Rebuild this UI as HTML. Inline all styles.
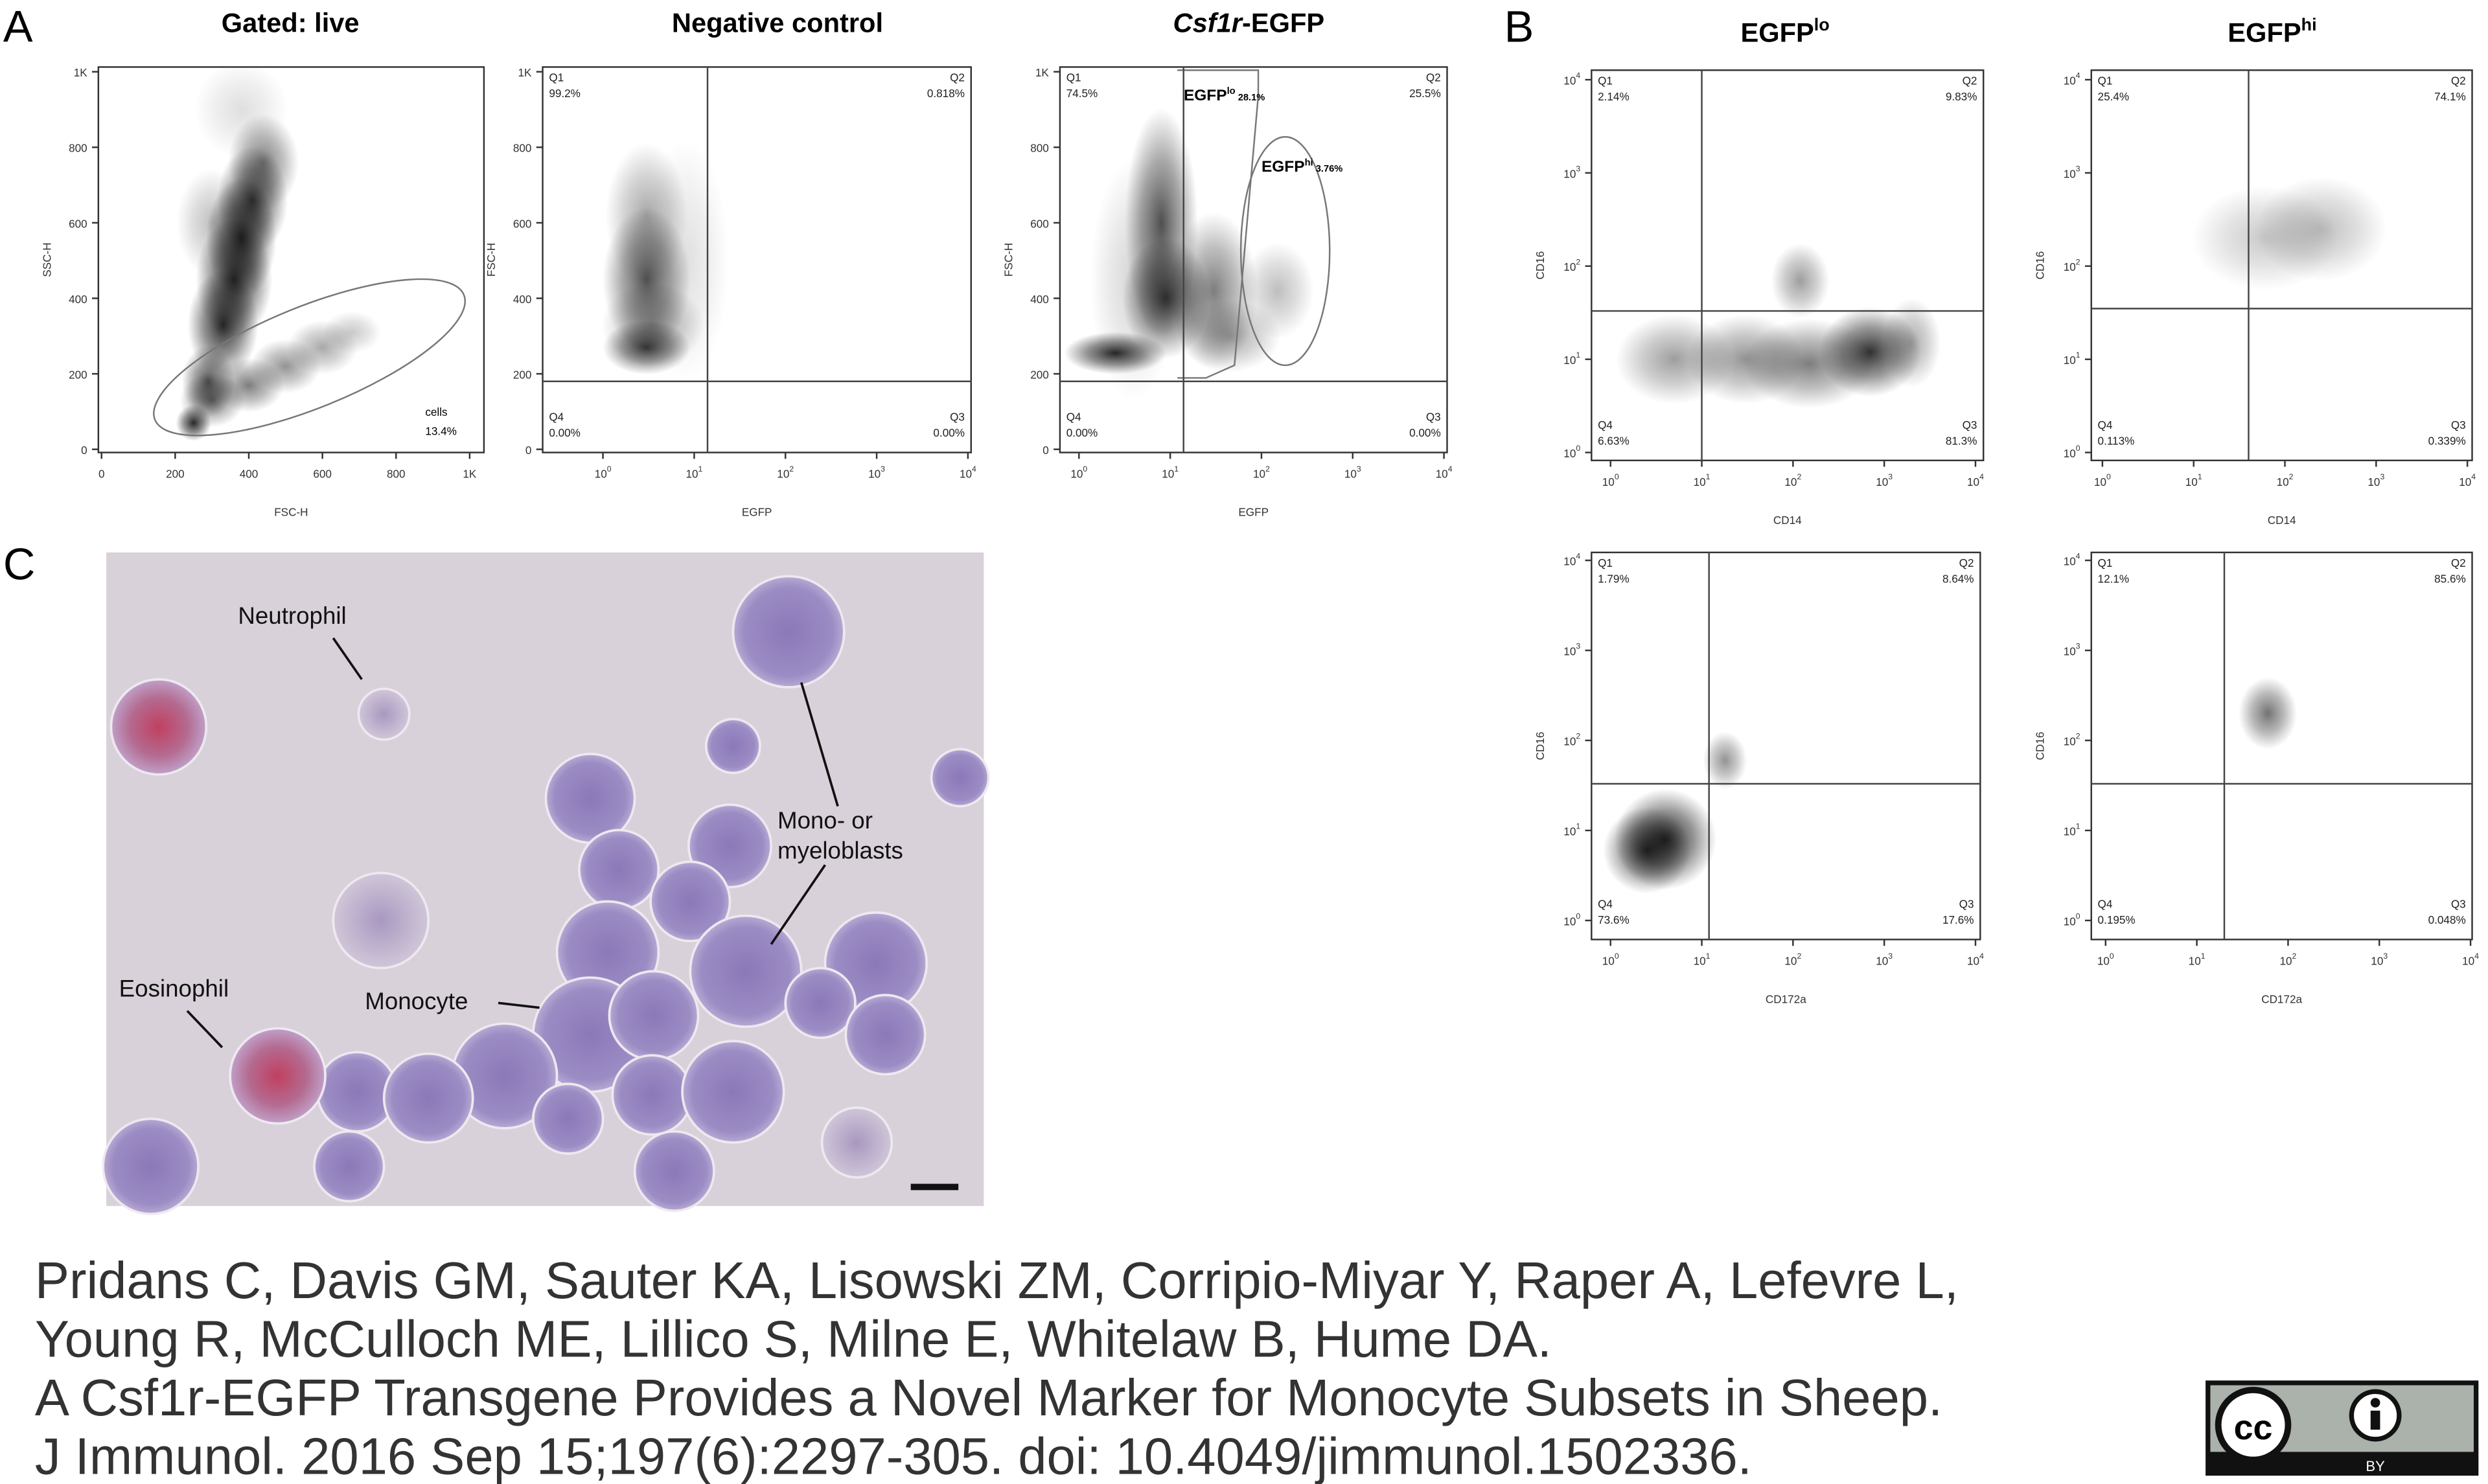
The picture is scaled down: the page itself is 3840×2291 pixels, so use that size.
<!DOCTYPE html>
<html><head><meta charset="utf-8"><style>
html,body{margin:0;padding:0;background:#fff}
svg{display:block}
text{font-family:"Liberation Sans",sans-serif}
</style></head><body>
<svg id="fig" width="3840" height="2291" viewBox="0 0 1568 935" xmlns="http://www.w3.org/2000/svg">
<defs>
<radialGradient id="dot"><stop offset="0" stop-color="#000" stop-opacity="0.85"/><stop offset="0.55" stop-color="#111" stop-opacity="0.45"/><stop offset="1" stop-color="#222" stop-opacity="0"/></radialGradient>
<radialGradient id="cellP"><stop offset="0" stop-color="#8a78b8"/><stop offset="0.8" stop-color="#9c8cc4"/><stop offset="1" stop-color="#b8aad4"/></radialGradient>
<radialGradient id="cellR"><stop offset="0" stop-color="#c04060"/><stop offset="0.6" stop-color="#b46a90"/><stop offset="1" stop-color="#c0a0c8"/></radialGradient>
<radialGradient id="cellF"><stop offset="0" stop-color="#a898c0"/><stop offset="1" stop-color="#d0c6d8"/></radialGradient>
</defs>
<g id="panels"></g>
<text x="2" y="26" font-size="28">A</text>
<text x="948" y="26" font-size="28">B</text>
<text x="2" y="365" font-size="28">C</text>
<text x="183" y="20" font-size="17" font-weight="bold" text-anchor="middle">Gated: live</text>
<text x="490" y="20" font-size="17" font-weight="bold" text-anchor="middle">Negative control</text>
<text x="787" y="20" font-size="17" font-weight="bold" text-anchor="middle"><tspan font-style="italic">Csf1r</tspan>-EGFP</text>
<text x="1125" y="26" font-size="17" font-weight="bold" text-anchor="middle">EGFP<tspan font-size="11" dy="-7">lo</tspan></text>
<text x="1432" y="26" font-size="17" font-weight="bold" text-anchor="middle">EGFP<tspan font-size="11" dy="-7">hi</tspan></text>

<g>
<rect x="67" y="348" width="553" height="412" fill="#d9d1d9"/>
<g id="cells"></g>
<g font-size="15" fill="#111">
<text x="150" y="393">Neutrophil</text>
<text x="490" y="522">Mono- or</text>
<text x="490" y="541">myeloblasts</text>
<text x="75" y="628">Eosinophil</text>
<text x="230" y="636">Monocyte</text>
</g>
<g stroke="#111" stroke-width="1.5" fill="none">
<line x1="210" y1="402" x2="228" y2="428"/><line x1="528" y1="508" x2="505" y2="430"/>
<line x1="520" y1="545" x2="486" y2="595"/><line x1="118" y1="637" x2="140" y2="660"/>
<line x1="314" y1="632" x2="340" y2="635"/>
</g>
<rect x="574" y="746" width="30" height="4" fill="#111"/>
</g>

<g font-size="32.5" fill="#333">
<text x="22" y="818">Pridans C, Davis GM, Sauter KA, Lisowski ZM, Corripio-Miyar Y, Raper A, Lefevre L,</text>
<text x="22" y="855">Young R, McCulloch ME, Lillico S, Milne E, Whitelaw B, Hume DA.</text>
<text x="22" y="892">A Csf1r-EGFP Transgene Provides a Novel Marker for Monocyte Subsets in Sheep.</text>
<text x="22" y="929">J Immunol. 2016 Sep 15;197(6):2297-305. doi: 10.4049/jimmunol.1502336.</text>
</g>
<g>
<rect x="1390" y="870" width="172" height="60" fill="#111"/>
<rect x="1393" y="873" width="166" height="42" fill="#aab2ab"/>
<circle cx="1420" cy="898" r="22" fill="#fff" stroke="#111" stroke-width="4"/>
<text x="1420" y="907" font-size="22" font-weight="bold" text-anchor="middle">cc</text>
<circle cx="1497" cy="892" r="15" fill="#fff" stroke="#111" stroke-width="3"/>
<circle cx="1497" cy="884" r="3" fill="#111"/><rect x="1494" y="889" width="6" height="12" fill="#111"/>
<text x="1497" y="927" font-size="9" fill="#fff" text-anchor="middle">BY</text>
</g>
</svg>
<script>
const NS="http://www.w3.org/2000/svg";
function mk(tag,attrs,parent){const e=document.createElementNS(NS,tag);for(const k in attrs)e.setAttribute(k,attrs[k]);parent.appendChild(e);return e;}
const root=document.getElementById('panels');

const linTicks=[0,200,400,600,800,1000];
const linTickLabels=["0","200","400","600","800","1K"];
const logTicks=[1,10,100,1000,10000];
const logTickExp=["0","1","2","3","4"];

// Plot A1: FSC-H vs SSC-H
const a1X=[250,290,330,360,380,410,440,300,400,500,600,680,380,300];
const a1Y=[70,180,330,450,560,660,760,130,170,220,270,310,900,600];
const a1SX=[30,45,60,65,60,60,60,55,60,60,60,50,80,60];
const a1SY=[30,60,90,100,100,90,80,45,45,45,45,35,80,90];
const a1W=[1,0.8,1,1,1,0.9,0.6,0.6,0.6,0.5,0.4,0.25,0.15,0.3];
// Plot A2
const a2X=[3,3,3,3.5,8];
const a2Y=[270,450,620,330,500];
const a2SX=[0.3,0.3,0.28,0.35,0.3];
const a2SY=[45,120,120,70,200];
const a2W=[0.9,0.8,0.4,0.4,0.15];
// Plot A3
const a3X=[2.5,8,9,30,45,150,4];
const a3Y=[255,600,400,420,300,420,450];
const a3SX=[0.35,0.25,0.3,0.3,0.35,0.25,0.3];
const a3SY=[35,190,100,130,60,80,200];
const a3W=[1,0.8,0.9,0.6,0.4,0.3,0.2];
// Plot B1
const b1X=[5,30,150,700,120,2000];
const b1Y=[10,10,9,12,70,15];
const b1SX=[0.4,0.4,0.45,0.35,0.2,0.2];
const b1SY=[0.3,0.3,0.3,0.3,0.25,0.3];
const b1W=[0.45,0.5,0.6,0.95,0.45,0.4];
// Plot B2
const b2X=[60,250];
const b2Y=[200,250];
const b2SX=[0.5,0.45];
const b2SY=[0.35,0.35];
const b2W=[0.25,0.3];
// Plot B3
const b3X=[4,2.5,18];
const b3Y=[8,6,60];
const b3SX=[0.35,0.3,0.15];
const b3SY=[0.35,0.3,0.2];
const b3W=[1,0.9,0.5];
// Plot B4
const b4X=[60];
const b4Y=[200];
const b4SX=[0.2];
const b4SY=[0.25];
const b4W=[0.65];

function linAx(v0,v1,p0,p1){return v=>p0+(v-v0)/(v1-v0)*(p1-p0);}
function logAx(p0,p1){return v=>p0+Math.log10(v)/4*(p1-p0);}

function plot(cfg){
  const g=mk('g',{},root);
  
  
  const f=mk('rect',{x:cfg.x0,y:cfg.y0,width:cfg.x1-cfg.x0,height:cfg.y1-cfg.y0,fill:'#fff',stroke:'#333','stroke-width':1},g);
  
  
  const clip='c'+cfg.name;
  const cp=mk('clipPath',{id:clip},g);mk('rect',{x:cfg.x0,y:cfg.y0,width:cfg.x1-cfg.x0,height:cfg.y1-cfg.y0},cp);
  const cg=mk('g',{'clip-path':'url(#'+clip+')'},g);
  for(let i=0;i<cfg.cx.length;i++){
    const px=cfg.fx(cfg.cx[i]),py=cfg.fy(cfg.cy[i]);
    let rx,ry;
    if(cfg.xlog){rx=cfg.sx[i]*(cfg.fx(10)-cfg.fx(1));}else{rx=Math.abs(cfg.fx(cfg.sx[i])-cfg.fx(0));}
    if(cfg.ylog){ry=cfg.sy[i]*Math.abs(cfg.fy(10)-cfg.fy(1));}else{ry=Math.abs(cfg.fy(cfg.sy[i])-cfg.fy(0));}
    const e=mk('ellipse',{cx:px,cy:py,rx:rx*1.6,ry:ry*1.6,fill:'url(#dot)',opacity:cfg.w[i]},cg);
    
    
  }
  (cfg.extra||(()=>{}))(cg);
  const tg=mk('g',{'font-size':7,fill:'#333'},g);
  const xt=cfg.xlog?logTicks:linTicks, yt=cfg.ylog?logTicks:linTicks;
  xt.forEach((v,i)=>{const px=cfg.fx(v);mk('line',{x1:px,x2:px,y1:cfg.y1,y2:cfg.y1+4,stroke:'#333'},tg);
    const t=mk('text',{x:px,y:cfg.y1+16,'text-anchor':'middle'},tg);
    if(cfg.xlog){t.textContent='10';mk('tspan',{dy:-4,'font-size':5},t).textContent=logTickExp[i];}else t.textContent=linTickLabels[i];});
  yt.forEach((v,i)=>{const py=cfg.fy(v);mk('line',{x1:cfg.x0-4,x2:cfg.x0,y1:py,y2:py,stroke:'#333'},tg);
    const t=mk('text',{x:cfg.x0-7,y:py+3,'text-anchor':'end'},tg);
    if(cfg.ylog){t.textContent='10';mk('tspan',{dy:-4,'font-size':5},t).textContent=logTickExp[i];}else t.textContent=linTickLabels[i];});
  const xl=mk('text',{x:(cfg.x0+cfg.x1)/2,y:cfg.y1+40,'text-anchor':'middle','font-size':7,fill:'#333'},g);xl.textContent=cfg.xlab;
  
  const ym=(cfg.y0+cfg.y1)/2, yx=cfg.x0-30;
  const yl=mk('text',{x:yx,y:ym,'text-anchor':'middle','font-size':7,fill:'#333',transform:`rotate(-90 ${yx} ${ym})`},g);yl.textContent=cfg.ylab;
  
  if(cfg.q){
    const qx=cfg.fx(cfg.q[0]),qy=cfg.fy(cfg.q[1]);
    mk('line',{x1:qx,x2:qx,y1:cfg.y0,y2:cfg.y1,stroke:'#444'},g);
    mk('line',{x1:cfg.x0,x2:cfg.x1,y1:qy,y2:qy,stroke:'#444'},g);
    const ql=mk('g',{'font-size':7,fill:'#222'},g);
    const L=cfg.qlab;
    [[cfg.x0+4,cfg.y0+9,'start','Q1'],[cfg.x1-4,cfg.y0+9,'end','Q2'],[cfg.x0+4,cfg.y1-20,'start','Q4'],[cfg.x1-4,cfg.y1-20,'end','Q3']].forEach((p,i)=>{
      const t=mk('text',{x:p[0],y:p[1],'text-anchor':p[2]},ql);t.textContent=p[3];
      const t2=mk('text',{x:p[0],y:p[1]+10,'text-anchor':p[2]},ql);t2.textContent=L[i];
      
    });
  }
}

plot({name:'plot-gated-live',x0:62,x1:305,y0:42,y1:285,fx:linAx(0,1000,64,296),fy:linAx(0,1000,283,45),xlog:false,ylog:false,
  cx:a1X,cy:a1Y,sx:a1SX,sy:a1SY,w:a1W,xlab:'FSC-H',ylab:'SSC-H',
  extra:g=>{mk('ellipse',{cx:195,cy:225,rx:105,ry:32,transform:'rotate(-22 195 225)',fill:'none',stroke:'#777'},g);
    const t=mk('text',{x:268,y:262,'font-size':7},g);t.textContent='cells';const t2=mk('text',{x:268,y:274,'font-size':7},g);t2.textContent='13.4%';}});
plot({name:'plot-negative-control',x0:342,x1:612,y0:42,y1:285,fx:logAx(380,610),fy:linAx(0,1000,283,45),xlog:true,ylog:false,
  cx:a2X,cy:a2Y,sx:a2SX,sy:a2SY,w:a2W,xlab:'EGFP',ylab:'FSC-H',q:[14,180],qlab:['99.2%','0.818%','0.00%','0.00%']});
plot({name:'plot-csf1r-egfp',x0:668,x1:912,y0:42,y1:285,fx:logAx(680,910),fy:linAx(0,1000,283,45),xlog:true,ylog:false,
  cx:a3X,cy:a3Y,sx:a3SX,sy:a3SY,w:a3W,xlab:'EGFP',ylab:'FSC-H',q:[14,180],qlab:['74.5%','25.5%','0.00%','0.00%'],
  extra:g=>{mk('path',{d:'M742 44 L793 44 L793 60 L778 230 L760 238 L742 238',fill:'none',stroke:'#777'},g);
    mk('ellipse',{cx:810,cy:158,rx:28,ry:72,fill:'none',stroke:'#777'},g);
    const t=mk('text',{x:746,y:63,'font-size':10,'font-weight':'bold'},g);t.textContent='EGFP';mk('tspan',{dy:-4,'font-size':6},t).textContent='lo';mk('tspan',{dy:4,'font-size':6},t).textContent=' 28.1%';
    const t2=mk('text',{x:795,y:108,'font-size':10,'font-weight':'bold'},g);t2.textContent='EGFP';mk('tspan',{dy:-4,'font-size':6},t2).textContent='hi';mk('tspan',{dy:4,'font-size':6},t2).textContent=' 3.76%';}});
plot({name:'plot-egfplo-cd14-cd16',x0:1003,x1:1250,y0:44,y1:290,fx:logAx(1015,1245),fy:logAx(285,50),xlog:true,ylog:true,
  cx:b1X,cy:b1Y,sx:b1SX,sy:b1SY,w:b1W,xlab:'CD14',ylab:'CD16',q:[10,33],qlab:['2.14%','9.83%','6.63%','81.3%']});
plot({name:'plot-egfphi-cd14-cd16',x0:1318,x1:1558,y0:44,y1:290,fx:logAx(1325,1555),fy:logAx(285,50),xlog:true,ylog:true,
  cx:b2X,cy:b2Y,sx:b2SX,sy:b2SY,w:b2W,xlab:'CD14',ylab:'CD16',q:[40,35],qlab:['25.4%','74.1%','0.113%','0.339%']});
plot({name:'plot-egfplo-cd172a-cd16',x0:1003,x1:1248,y0:348,y1:592,fx:logAx(1015,1245),fy:logAx(580,353),xlog:true,ylog:true,
  cx:b3X,cy:b3Y,sx:b3SX,sy:b3SY,w:b3W,xlab:'CD172a',ylab:'CD16',q:[12,33],qlab:['1.79%','8.64%','73.6%','17.6%']});
plot({name:'plot-egfphi-cd172a-cd16',x0:1318,x1:1558,y0:348,y1:592,fx:logAx(1327,1557),fy:logAx(580,353),xlog:true,ylog:true,
  cx:b4X,cy:b4Y,sx:b4SX,sy:b4SY,w:b4W,xlab:'CD172a',ylab:'CD16',q:[20,33],qlab:['12.1%','85.6%','0.195%','0.048%']});

const cellList=[[100,458,30,'R'],[242,450,16,'F'],[497,398,35,'P'],[462,470,17,'P'],[605,490,18,'P'],[372,503,28,'P'],[460,533,26,'P'],[240,580,30,'F'],
[390,548,25,'P'],[435,568,25,'P'],[383,600,32,'P'],[470,612,35,'P'],[552,607,32,'P'],[517,632,22,'P'],[558,652,25,'P'],[372,652,36,'P'],[318,678,33,'P'],
[412,640,28,'P'],[411,690,25,'P'],[462,688,32,'P'],[225,688,25,'P'],[270,692,28,'P'],[175,678,30,'R'],[95,735,30,'P'],[220,735,22,'P'],[358,705,22,'P'],[425,738,25,'P'],[540,720,22,'F']];
const cg=document.getElementById('cells');
cellList.forEach(c=>{const e=mk('circle',{cx:c[0],cy:c[1],r:c[2],fill:'url(#cell'+c[3]+')',stroke:'#eee8f0','stroke-width':1.5},cg);
  
  });
</script>
</body></html>
